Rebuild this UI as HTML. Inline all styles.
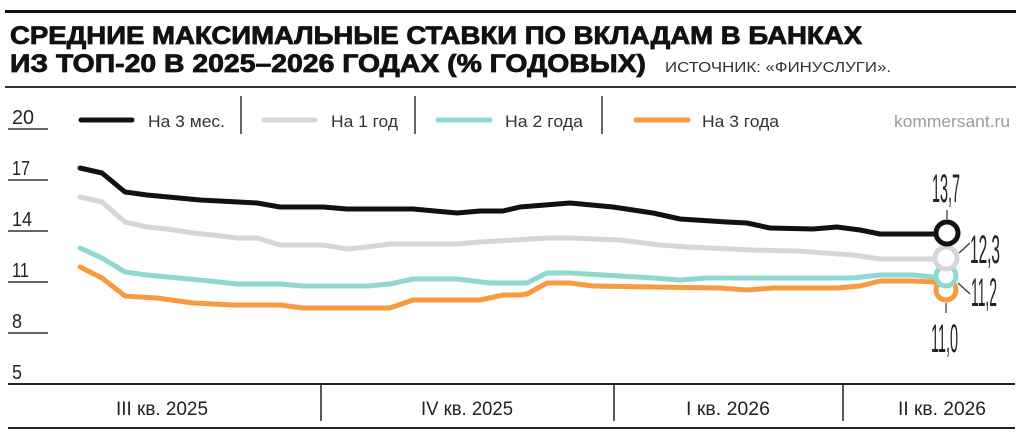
<!DOCTYPE html>
<html><head><meta charset="utf-8"><style>
html,body{margin:0;padding:0;background:#fff;}
svg{display:block;}
text{font-family:"Liberation Sans",sans-serif;}
</style></head><body>
<svg width="1024" height="439" viewBox="0 0 1024 439" xmlns="http://www.w3.org/2000/svg">
<rect width="1024" height="439" fill="#fff"/>
<rect x="5" y="10" width="1011" height="3" fill="#111"/>
<text x="10" y="44" font-size="25" font-weight="bold" fill="#111" stroke="#111" stroke-width="0.8" textLength="852" lengthAdjust="spacingAndGlyphs">СРЕДНИЕ МАКСИМАЛЬНЫЕ СТАВКИ ПО ВКЛАДАМ В БАНКАХ</text>
<text x="10" y="72" font-size="25" font-weight="bold" fill="#111" stroke="#111" stroke-width="0.8" textLength="636" lengthAdjust="spacingAndGlyphs">ИЗ ТОП-20 В 2025–2026 ГОДАХ (% ГОДОВЫХ)</text>
<text x="665" y="72" font-size="15" fill="#333" textLength="226" lengthAdjust="spacingAndGlyphs">ИСТОЧНИК: «ФИНУСЛУГИ».</text>
<rect x="5" y="86" width="1011" height="2" fill="#333"/>

<g stroke-width="5" stroke-linecap="round">
<line x1="81" y1="120" x2="132" y2="120" stroke="#111"/>
<line x1="264" y1="120" x2="315" y2="120" stroke="#d6d6da"/>
<line x1="438" y1="120" x2="490" y2="120" stroke="#8fd8cf"/>
<line x1="636" y1="120" x2="688" y2="120" stroke="#f99a3f"/>
</g>
<g font-size="17" fill="#333">
<text x="148" y="127" textLength="77" lengthAdjust="spacingAndGlyphs">На 3 мес.</text>
<text x="331" y="127" textLength="67" lengthAdjust="spacingAndGlyphs">На 1 год</text>
<text x="505" y="127" textLength="78" lengthAdjust="spacingAndGlyphs">На 2 года</text>
<text x="702" y="127" textLength="77" lengthAdjust="spacingAndGlyphs">На 3 года</text>
</g>
<text x="1010" y="127" font-size="17" fill="#9a9a9a" text-anchor="end" textLength="116" lengthAdjust="spacingAndGlyphs">kommersant.ru</text>
<g stroke="#333" stroke-width="1.5">
<line x1="241" y1="96" x2="241" y2="134"/>
<line x1="415" y1="96" x2="415" y2="134"/>
<line x1="602" y1="96" x2="602" y2="134"/>
</g>

<g stroke="#333" stroke-width="1.5">
<line x1="8" y1="129" x2="48" y2="129"/>
<line x1="8" y1="180" x2="48" y2="180"/>
<line x1="8" y1="231" x2="48" y2="231"/>
<line x1="8" y1="282" x2="48" y2="282"/>
<line x1="8" y1="333" x2="48" y2="333"/>
</g>
<g font-size="20" fill="#222">
<text x="12" y="124" textLength="22" lengthAdjust="spacingAndGlyphs">20</text>
<text x="12" y="175" textLength="18" lengthAdjust="spacingAndGlyphs">17</text>
<text x="12" y="226" textLength="20" lengthAdjust="spacingAndGlyphs">14</text>
<text x="12" y="277" textLength="17" lengthAdjust="spacingAndGlyphs">11</text>
<text x="12" y="328" textLength="10" lengthAdjust="spacingAndGlyphs">8</text>
<text x="12" y="379" textLength="10" lengthAdjust="spacingAndGlyphs">5</text>
</g>

<rect x="8" y="383" width="1007" height="2" fill="#222"/>
<rect x="8" y="427" width="1007" height="2" fill="#222"/>
<g stroke="#222" stroke-width="1.5">
<line x1="321" y1="384" x2="321" y2="421"/>
<line x1="614" y1="384" x2="614" y2="421"/>
<line x1="843" y1="384" x2="843" y2="421"/>
</g>
<g font-size="19" fill="#222" text-anchor="middle">
<text x="162" y="415" textLength="92" lengthAdjust="spacingAndGlyphs">III кв. 2025</text>
<text x="467" y="415" textLength="92" lengthAdjust="spacingAndGlyphs">IV кв. 2025</text>
<text x="728" y="415" textLength="84" lengthAdjust="spacingAndGlyphs">I кв. 2026</text>
<text x="942" y="415" textLength="88" lengthAdjust="spacingAndGlyphs">II кв. 2026</text>
</g>

<g fill="none" stroke-width="5" stroke-linejoin="round" stroke-linecap="round">
<polyline stroke="#f99a3f" points="80,267 102,278 125,296 157,298 193,303 233,305 280,305 303,308 390,308 413,300 480,300 503,295 520,295 527,294 547,283 570,283 593,286 653,287 720,288 747,290 773,288 837,288 860,286 880,281 913,281 933,282 946,285"/>
<polyline stroke="#8fd8cf" points="80,248 102,258 125,272 147,275 210,281 237,284 280,284 303,286 367,286 390,284 413,279 457,279 490,283 527,283 547,273 570,273 620,276 653,278 680,280 707,278 853,278 880,275 913,275 933,277 946,278"/>
<polyline stroke="#d6d6da" points="80,197 102,202 125,222 147,227 167,229 193,233 213,235 237,238 257,238 280,245 323,245 347,249 367,247 390,244 457,244 480,242 547,238 570,238 620,240 660,245 687,247 753,250 797,251 853,255 880,259 946,259"/>
<polyline stroke="#111" points="80,168 102,173 125,192 147,195 200,200 257,203 280,207 323,207 347,209 413,209 457,213 480,211 503,211 520,207 570,203 613,207 653,213 680,219 727,222 747,223 770,228 813,229 837,227 860,230 880,234 946,234"/>
</g>
<g fill="#fff" stroke-width="5">
<circle cx="946" cy="290" r="10" stroke="#f99a3f"/>
<circle cx="946" cy="276" r="10" stroke="#8fd8cf"/>
<circle cx="946" cy="258" r="11" stroke="#d6d6da"/>
<circle cx="947" cy="233" r="11" stroke="#111"/>
</g>
<g stroke="#333" stroke-width="1.2">
<line x1="947" y1="210" x2="947" y2="219"/>
<line x1="959" y1="253" x2="970" y2="243"/>
<line x1="958" y1="283" x2="970" y2="294"/>
<line x1="946" y1="303" x2="946" y2="313"/>
</g>
<g font-size="40" fill="#222">
<text x="932" y="202" textLength="28" lengthAdjust="spacingAndGlyphs">13,7</text>
<text x="970" y="263" textLength="30" lengthAdjust="spacingAndGlyphs">12,3</text>
<text x="971" y="306" textLength="26" lengthAdjust="spacingAndGlyphs">11,2</text>
<text x="931" y="352" textLength="27" lengthAdjust="spacingAndGlyphs">11,0</text>
</g>
</svg>
</body></html>
